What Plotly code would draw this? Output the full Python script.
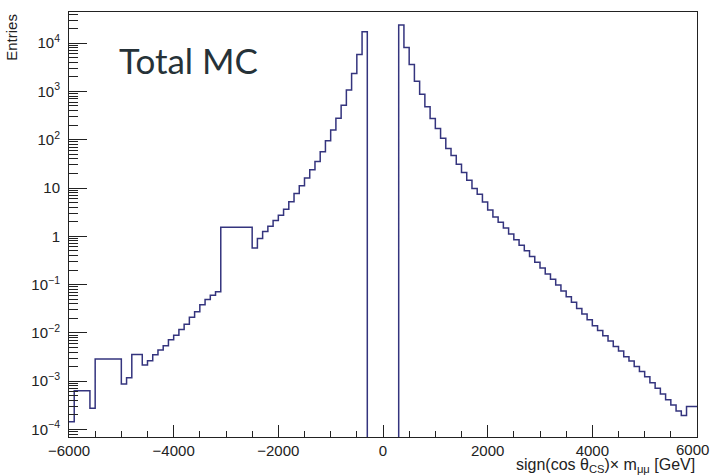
import plotly.graph_objects as go

# Bin edges: 100 GeV bins from -6000 to 6000
bin_lo = -6000
bin_width = 100

# Bin contents (Entries per bin), left to right
left_tail = [1.45e-4, 6.3e-4, 6.3e-4, 6.3e-4, 2.76e-4,
             2.87e-3, 2.87e-3, 2.87e-3, 2.87e-3, 2.87e-3,
             8.7e-4, 1.17e-3, 3.58e-3, 3.58e-3, 2.15e-3, 2.64e-3,
             3.5e-3, 4.4e-3, 5.4e-3, 7.2e-3, 8.9e-3, 0.0117, 0.0151,
             0.021, 0.0275, 0.038, 0.049, 0.060, 0.071,
             1.54, 1.54, 1.54, 1.54, 1.54, 1.54]
left_rise = [0.575, 0.90, 1.26, 1.62, 2.13, 2.74, 3.64, 5.2, 7.7, 11.1,
             16.2, 23.8, 35.5, 56, 95, 158, 277, 520, 1070, 2360, 5800, 1.73e4]
center_gap = [0, 0, 0, 0, 0, 0]
right_fall = [2.37e4, 8.1e3, 3.6e3, 1.62e3, 870, 480, 275, 170, 107, 66,
              47, 31, 21, 14.5, 9.8, 7.4, 5.1, 3.5, 2.5, 1.95,
              1.48, 1.12, 0.85, 0.65, 0.50, 0.38, 0.29, 0.22, 0.166, 0.129,
              0.098, 0.074, 0.056, 0.043, 0.032, 0.0245, 0.0186, 0.0141, 0.0112, 0.0087,
              0.0068, 0.0052, 0.0042, 0.0032, 0.0026, 0.0020, 0.00158, 0.00123, 0.00093, 0.00071,
              0.00054, 0.00041, 0.00032, 0.00024, 0.000195, 0.00030, 0.00030]

counts = left_tail + left_rise + center_gap + right_fall

y_tick_vals = [1e-4, 1e-3, 1e-2, 1e-1, 1, 10, 100, 1e3, 1e4]
y_tick_text = ["10<sup>\u22124</sup>", "10<sup>\u22123</sup>", "10<sup>\u22122</sup>",
               "10<sup>\u22121</sup>", "1", "10", "10<sup>2</sup>", "10<sup>3</sup>",
               "10<sup>4</sup>"]
x_tick_vals = [-6000, -4000, -2000, 0, 2000, 4000, 6000]
x_tick_text = ["\u22126000", "\u22124000", "\u22122000", "0", "2000", "4000", ""]
x_last_label = "6000"

edges = [bin_lo + i * bin_width for i in range(len(counts) + 1)]
floor = 1e-9
ys = [c if c > 0 else floor for c in counts]
xs = edges[:-1] + [edges[-1]]
ys = ys + [ys[-1]]

minor_y = [k * 10.0 ** n for n in range(-5, 5) for k in range(2, 10)]

fig = go.Figure()
fig.add_trace(go.Scatter(x=xs, y=ys, mode="lines", line_shape="hv",
                         line=dict(color="#34347e", width=1.5),
                         showlegend=False, hoverinfo="skip"))

fam = "Liberation Sans, Arial, sans-serif"
tickfont = dict(family=fam, size=15, color="#222")

fig.update_layout(
    width=712, height=475,
    margin=dict(l=69, r=15, t=12, b=38),
    paper_bgcolor="white", plot_bgcolor="white",
    xaxis=dict(range=[-6000, 6000], showgrid=False, zeroline=False,
               showline=True, linecolor="#222", linewidth=1, mirror=True,
               ticks="inside", ticklen=12, tickcolor="#222",
               tickvals=x_tick_vals, ticktext=x_tick_text, tickfont=tickfont,
               minor=dict(ticks="inside", ticklen=6, tickcolor="#222",
                          tickvals=list(range(-6000, 6001, 500)), showgrid=False)),
    yaxis=dict(type="log", range=[-4.157, 4.645], showgrid=False, zeroline=False,
               showline=True, linecolor="#222", linewidth=1, mirror=True,
               ticks="inside", ticklen=18, tickcolor="#222",
               tickvals=y_tick_vals, ticktext=y_tick_text, tickfont=tickfont,
               ticklabelstandoff=5,
               minor=dict(ticks="inside", ticklen=9, tickcolor="#222",
                          tickvals=minor_y, showgrid=False)),
    annotations=[
        dict(text="Total MC", x=0.0764, y=0.887, xref="paper", yref="paper",
             xanchor="left", yanchor="middle", showarrow=False,
             font=dict(family="Lato, sans-serif", size=35, color="#263238")),
        dict(text=x_last_label, x=1.0223, y=-0.03, xref="paper", yref="paper",
             xanchor="right", yanchor="middle", showarrow=False,
             font=tickfont),
        dict(text="sign(cos \u03b8<sub>CS</sub>)\u00d7 m<sub>\u03bc\u03bc</sub> [GeV]",
             x=1.0, y=-0.066, xref="paper", yref="paper",
             xanchor="right", yanchor="middle", showarrow=False,
             font=dict(family=fam, size=16, color="#222")),
        dict(text="Entries", x=-0.092, y=1.0, xref="paper", yref="paper",
             xanchor="center", yanchor="top", textangle=-90, showarrow=False,
             font=dict(family=fam, size=15, color="#222")),
    ],
)

fig.write_html("out.html")
